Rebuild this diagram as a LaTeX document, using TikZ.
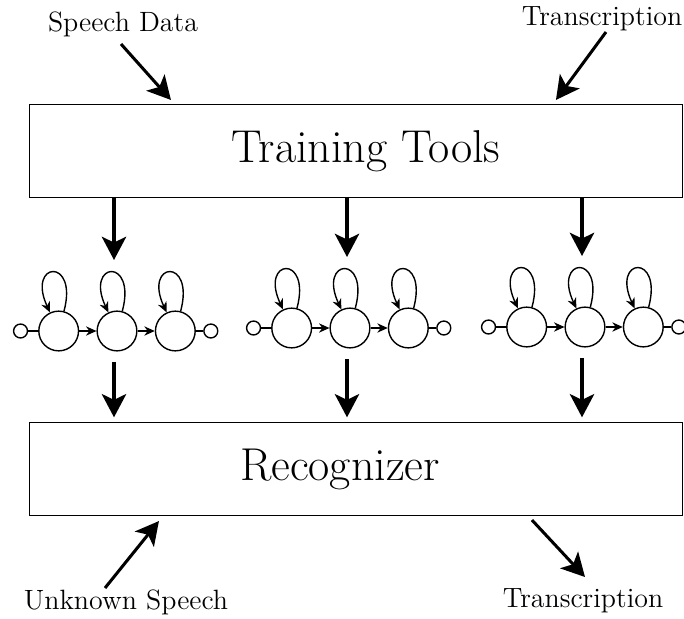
\documentclass[tikz,border=0pt]{standalone}
\usetikzlibrary{arrows.meta,positioning}

\begin{document}
\begin{tikzpicture}[x=0.0151cm, y=-0.0151cm, line width=0.6pt,
                    block/.style={draw, minimum width=9.86cm, minimum height=1.4cm},
                    block text/.style={font=\fontsize{19.8}{24}\selectfont},
                    label node/.style={font=\large, inner sep=1pt},
                    state/.style={draw, circle, minimum size=0.6cm, inner sep=0pt},
                    end state/.style={draw, circle, minimum size=0.21cm, inner sep=0pt},
                    big arrow/.style={-{Stealth[length=10pt,width=10.5pt,inset=2.5pt]}, line width=1.3pt},
                    small arrow/.style={-{Stealth[length=4.5pt,width=4pt]}}]

  \useasboundingbox (0,0) rectangle (684,618);

  \node[block] (train) at (356,151) {};
  \node[block text] (train text) at (366,151) {Training Tools};
  \node[block] (recog) at (356,469) {};
  \node[block text] (recog text) at (340,469) {Recognizer};

  \node[label node] (speech) at (123,24) {Speech Data};
  \node[label node] (trans in) at (602,19) {Transcription};
  \node[label node] (unknown) at (126,602) {Unknown Speech};
  \node[label node] (trans out) at (583,601) {Transcription};

  % inputs and outputs
  \coordinate (sd) at (121,44);
  \path (train.north west) ++(142,-4) coordinate (sd end);
  \coordinate (ti) at (606,32);
  \path (train.north west) ++(527,-4) coordinate (ti end);
  \coordinate (us) at (105,588);
  \path (recog.south west) ++(130,5) coordinate (us start);
  \path (recog.south west) ++(503,4) coordinate (to start);
  \coordinate (to) at (585,577);

  \draw[big arrow] (sd) -- (sd end);
  \draw[big arrow] (ti) -- (ti end);
  \draw[big arrow] (us) -- (us start);
  \draw[big arrow] (to start) -- (to);

  % the three models
  \foreach \m/\x/\y in {1/117/331, 2/350/328, 3/585/327} {
    \node[state] (s\m2) at (\x,\y) {};
    \node[state, left=0.26cm of s\m2] (s\m1) {};
    \node[state, right=0.26cm of s\m2] (s\m3) {};
    \node[end state, left=0.15cm of s\m1] (b\m) {};
    \node[end state, right=0.11cm of s\m3] (e\m) {};
    \draw (b\m) -- (s\m1);
    \draw (s\m3) -- (e\m);
    \draw[small arrow] (s\m1) -- (s\m2);
    \draw[small arrow] (s\m2) -- (s\m3);
    \foreach \i in {1,2,3}
      \path (s\m\i) edge[small arrow, loop, out=75, in=115, min distance=8.5mm] (s\m\i);
    \path (s\m2) ++(-3,-71) coordinate (in\m);
    \path (s\m2) ++(-3,31) coordinate (out\m);
    \draw[big arrow] (train.south -| in\m) -- (in\m);
    \draw[big arrow, shorten >=2pt] (out\m) -- (recog.north -| out\m);
  }
\end{tikzpicture}
\end{document}
